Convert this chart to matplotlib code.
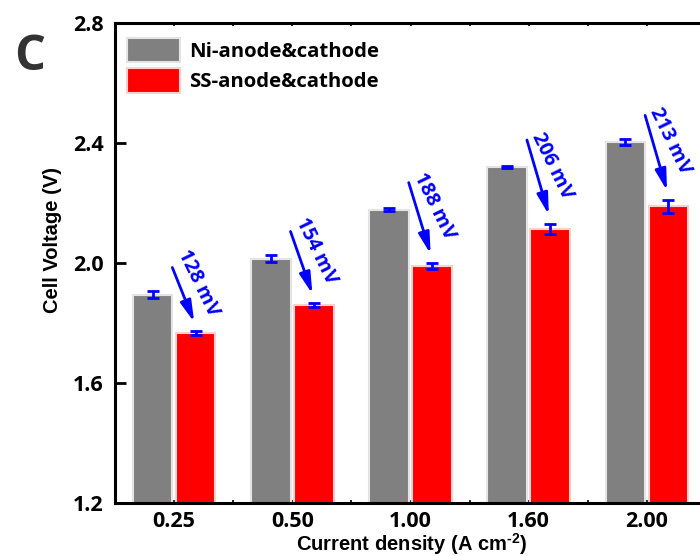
import numpy as np
import matplotlib
matplotlib.use('Agg')
from matplotlib import pyplot as plt

# Cell voltage at each current density, Ni vs stainless steel electrodes
densities = ['0.25', '0.50', '1.00', '1.60', '2.00']
ni_volts = [1.895, 2.015, 2.178, 2.320, 2.402]
ni_err = [0.013, 0.012, 0.004, 0.004, 0.010]
ss_volts = [1.767, 1.861, 1.990, 2.114, 2.189]
ss_err = [0.006, 0.006, 0.010, 0.017, 0.022]
series_names = ['Ni-anode&cathode', 'SS-anode&cathode']

plt.rcParams['font.family'] = ['Open Sans', 'DejaVu Sans']
plt.rcParams['font.weight'] = 'bold'
plt.rcParams['mathtext.fontset'] = 'custom'
plt.rcParams['mathtext.rm'] = 'Liberation Sans:bold'
plt.rcParams['mathtext.default'] = 'rm'
plt.rcParams['savefig.bbox'] = 'standard'

fig = plt.figure(figsize=(7, 5.56), dpi=100)
# plot area runs right up to the figure's right edge
ax = fig.add_axes([115 / 700, 1 - 503 / 556, 585 / 700, 480 / 556])

x = np.arange(len(densities))
width = 0.335
offset = 0.182

ax.bar(x - offset, ni_volts, width, color='#808080', edgecolor='#e4e4e4',
       linewidth=1.5, label=series_names[0], zorder=2)
ax.bar(x + offset, ss_volts, width, color='#ff0000', edgecolor='#ffd0d0',
       linewidth=1.5, label=series_names[1], zorder=2)

err_style = dict(fmt='none', ecolor='#0000ff', elinewidth=2, capsize=4.3,
                 capthick=2, zorder=3)
ax.errorbar(x - offset, ni_volts, yerr=ni_err, **err_style)
ax.errorbar(x + offset, ss_volts, yerr=ss_err, **err_style)

# arrows showing the voltage saving of the SS electrodes
for i in range(len(densities)):
    drop = round((ni_volts[i] - ss_volts[i]) * 1000)
    start = (i - 0.015, ni_volts[i] + 0.09)
    end = (i + 0.17, ss_volts[i] + ss_err[i] + 0.03)
    ax.annotate('', xy=end, xytext=start, zorder=4,
                arrowprops=dict(arrowstyle='-|>,head_length=0.85,head_width=0.22',
                                mutation_scale=15, color='#0000ff', lw=2,
                                shrinkA=0, shrinkB=0))
    mid = ((start[0] + end[0]) / 2, (start[1] + end[1]) / 2)
    ax.annotate(f'{drop} mV', xy=mid, xytext=(10.5, 8.5),
                textcoords='offset points', rotation=-64,
                rotation_mode='anchor', ha='center', va='center',
                color='#0000ff', fontsize=14.3, fontweight='bold',
                annotation_clip=False)

ax.set_xlim(-0.5, -0.5 + 585 / 118.2)
ax.set_ylim(1.2, 2.8)
ax.set_yticks([1.2, 1.6, 2.0, 2.4, 2.8])
ax.set_xticks(x)
ax.set_xticklabels(densities)
ax.set_xticks(x[:-1] + 0.5, minor=True)

ax.tick_params(axis='y', direction='in', length=8, width=2, pad=8,
               labelsize=15.5)
ax.tick_params(axis='x', which='both', direction='in', length=2, width=1.2,
               pad=6, labelsize=15.5, top=True)
for side in ['left', 'bottom', 'top']:
    ax.spines[side].set_linewidth(2.2)
ax.spines['right'].set_visible(False)

ax.set_xlabel(r'Current density (A cm$^{\text{-2}}$)', fontsize=14.5,
              fontweight='bold', family='Liberation Sans')
ax.set_ylabel('Cell Voltage (V)', fontsize=14.5, fontweight='bold',
              family='Liberation Sans')
ax.xaxis.set_label_coords(297 / 585, -0.058)
ax.yaxis.set_label_coords(-53 / 585, 0.548)

ax.legend(loc='upper left', bbox_to_anchor=(12 / 585, 1 - 15 / 480),
          frameon=False, borderpad=0, borderaxespad=0, fontsize=14.7,
          handlelength=2.6, handleheight=1.45, handletextpad=0.45,
          labelspacing=0.3)

fig.text(0.043, 0.896, 'C', fontsize=35, fontweight='bold', color='#333333',
         ha='center', va='center')

plt.savefig('out.png', dpi=100)
